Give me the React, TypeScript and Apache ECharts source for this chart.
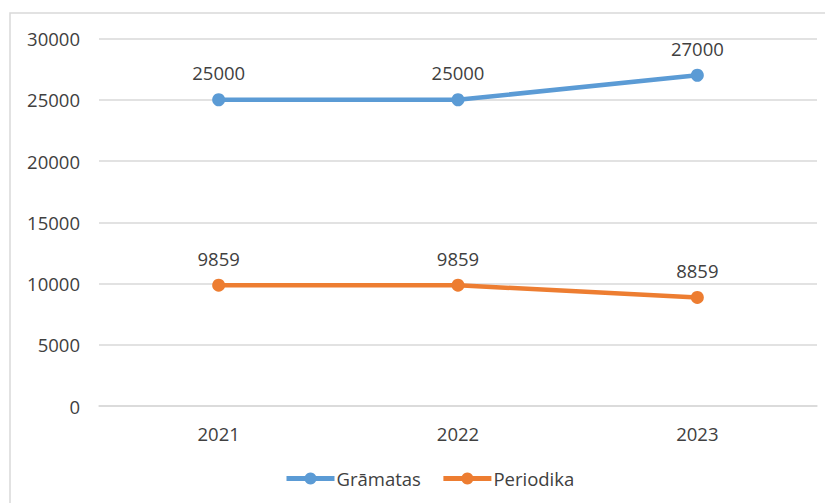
import React, { useEffect, useRef } from "react";
import * as echarts from "echarts";

const categories = ["2021", "2022", "2023"];
const gramatas = [25000, 25000, 27000];
const periodika = [9859, 9859, 8859];
const seriesNames = ["Grāmatas", "Periodika"];

export default function App() {
  const ref = useRef<HTMLDivElement>(null);
  useEffect(() => {
    const chart = echarts.init(ref.current!, null, { renderer: "svg" });
    const font = "'Open Sans', 'Noto Sans', sans-serif";
    const labelColor = "#404040";
    const fs = 18.5;
    chart.setOption({
      animation: false,
      backgroundColor: "#ffffff",
      textStyle: { fontFamily: font },
      graphic: [
        {
          type: "rect",
          shape: { x: 10, y: 13, width: 830, height: 510 },
          style: { fill: "none", stroke: "#d9d9d9", lineWidth: 1.5 },
          silent: true,
        },
      ],
      grid: { left: 99, right: 8, top: 38.5, bottom: 97, containLabel: false },
      xAxis: {
        type: "category",
        data: categories,
        boundaryGap: true,
        axisLine: { lineStyle: { color: "#d9d9d9", width: 1.5 } },
        axisTick: { show: false },
        axisLabel: { color: labelColor, fontSize: fs, margin: 18, fontFamily: font },
      },
      yAxis: {
        type: "value",
        min: 0,
        max: 30000,
        interval: 5000,
        axisLine: { show: false },
        axisTick: { show: false },
        axisLabel: {
          color: labelColor,
          fontSize: fs,
          margin: 19,
          fontFamily: font,
          formatter: (v: number) => String(v),
        },
        splitLine: { lineStyle: { color: "#d9d9d9", width: 1.5 } },
      },
      legend: {
        bottom: 10,
        left: 279,
        itemWidth: 48,
        itemHeight: 15,
        itemGap: 20,
        textStyle: { color: labelColor, fontSize: fs, fontFamily: font, padding: [0, 0, 0, -3] },
        lineStyle: { width: 5 },
        data: seriesNames,
      },
      series: [
        {
          name: seriesNames[0],
          type: "line",
          data: gramatas,
          color: "#5B9BD5",
          lineStyle: { width: 4.5 },
          symbol: "circle",
          symbolSize: 13,
          label: { show: true, position: "top", distance: 11, color: labelColor, fontSize: fs, fontFamily: font },
        },
        {
          name: seriesNames[1],
          type: "line",
          data: periodika,
          color: "#ED7D31",
          lineStyle: { width: 4.5 },
          symbol: "circle",
          symbolSize: 13,
          label: { show: true, position: "top", distance: 11, color: labelColor, fontSize: fs, fontFamily: font },
        },
      ],
    });
    return () => chart.dispose();
  }, []);
  return (
    <div
      ref={ref}
      style={{ position: "fixed", left: 0, top: 0, width: 825, height: 503 }}
    />
  );
}
